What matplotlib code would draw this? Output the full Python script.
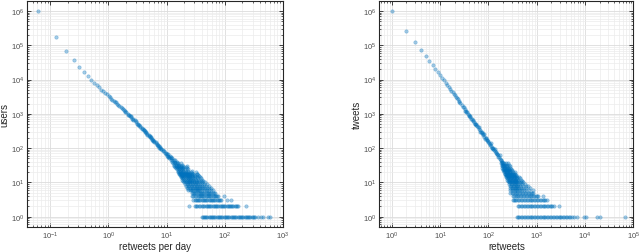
import matplotlib
matplotlib.use("Agg")
import matplotlib.pyplot as plt
from matplotlib.ticker import LogLocator, NullFormatter, FixedLocator, LogFormatterSciNotation

plt.rcParams['font.family'] = ['Liberation Sans', 'DejaVu Sans']

# ---------------- left panel: users vs retweets per day ----------------
left_line_x = [0.063, 0.127, 0.19, 0.253, 0.317, 0.38, 0.443, 0.506, 0.57, 0.633,
               0.696, 0.76, 0.823, 0.886, 0.95, 1.013, 1.07, 1.12, 1.175, 1.23,
               1.29, 1.35, 1.41, 1.48, 1.55, 1.62, 1.70, 1.78, 1.86, 1.95,
               2.04, 2.14, 2.24, 2.34, 2.45, 2.57, 2.69, 2.82, 2.95, 3.09,
               3.24, 3.39, 3.55, 3.72, 3.89, 4.07, 4.27, 4.47, 4.68, 4.90,
               5.13, 5.37, 5.62, 5.89, 6.17, 6.46, 6.76, 7.08, 7.41, 7.76,
               8.13, 8.51, 8.91,
               1.95, 2.45, 2.95, 3.55, 4.07, 4.47, 4.90, 5.37, 5.89, 6.46, 7.08, 7.76, 8.51,
               2.14, 2.69, 3.24, 3.72, 4.27, 4.68, 5.13, 5.62, 6.17, 6.76, 7.41, 8.13]
left_line_y = [1000000, 180000, 68000, 36000, 22500, 16500, 12400, 9500, 7900, 6900,
               5900, 5100, 4600, 4100, 3700, 3300, 3000, 2780, 2594, 2380,
               2259, 2150, 1963, 1800, 1710, 1620, 1486, 1370, 1291, 1210,
               1097, 990, 933, 875, 792, 715, 673, 640, 573, 515,
               486, 460, 414, 372, 352, 335, 299, 268, 254, 240,
               216, 194, 184, 174, 156, 140, 133, 125, 113, 101,
               96, 88, 81,
               1120, 840, 610, 450, 345, 290, 220, 205, 160, 150, 115, 110, 82,
               940, 720, 505, 390, 320, 245, 225, 172, 148, 124, 104, 92]

left_levels = {
    1: [39.8, 41.5, 43.7, 45.0, 47.9, 49.5, 52.5, 55.0, 57.5, 60.3, 63.1, 66.1, 69.2,
        72.4, 75.9, 79.4, 83.2, 87.1, 91.2, 95.5, 100, 105, 110, 115, 120, 126, 132,
        138, 145, 151, 158, 166, 174, 182, 191, 200, 209, 219, 229, 240, 251, 263,
        275, 288, 302, 316, 324, 372, 417, 447, 550, 603],
    2: [24.3, 30.2, 31.6, 33.9, 35.5, 37.2, 39.8, 41.7, 43.7, 46.8, 49.0, 51.3, 53.7,
        56.2, 58.9, 61.7, 64.6, 67.6, 70.8, 74.1, 77.6, 81.3, 85.1, 89.1, 93.3, 97.7,
        102, 107, 112, 117, 123, 129, 135, 141, 148, 155, 162, 170, 234],
    3: [28.7, 30.2, 31.6, 33.1, 34.7, 36.3, 38.0, 39.8, 41.7, 43.7, 45.7, 47.9, 50.1,
        52.5, 55.0, 57.5, 60.3, 63.1, 66.1, 69.2, 72.4, 75.9, 79.4, 83.2, 87.1, 107, 129],
    4: [27.5, 28.8, 30.9, 32.4, 34.0, 35.6, 37.2, 39.0, 40.7, 42.7, 44.7, 46.8, 49.0,
        51.3, 53.7, 56.2, 58.9, 61.7, 64.6, 67.6, 70.8, 74.1, 77.6, 95.5],
    5: [26.9, 28.2, 29.5, 30.9, 32.4, 34.0, 35.5, 37.2, 38.9, 40.7, 42.7, 44.7, 46.8,
        49.0, 51.3, 53.7, 56.2, 58.9, 61.7, 64.6, 67.6],
    6: [23.4, 25.1, 26.3, 27.5, 28.8, 30.2, 31.6, 33.1, 34.7, 36.3, 38.0, 40.7, 43.7,
        46.8, 50.1, 53.7, 57.5, 63.1],
    7: [22.4, 23.4, 25.7, 27.5, 28.8, 30.2, 31.6, 33.9, 35.5, 37.2, 39.8, 42.7, 45.7,
        49.0, 52.5, 57.5],
    8: [21.4, 23.4, 24.5, 26.3, 27.5, 29.5, 31.6, 33.1, 35.5, 38.0, 40.7, 43.7, 47.9, 52.5],
    9: [20.4, 22.4, 23.4, 25.1, 26.9, 28.2, 30.2, 32.4, 34.7, 37.2, 40.7, 44.7, 49.0],
    10: [20.0, 21.4, 22.9, 24.5, 25.7, 27.5, 29.5, 31.6, 33.9, 36.3, 39.8, 45.7],
    11: [19.1, 20.9, 22.4, 24.0, 25.7, 27.5, 29.5, 32.4, 35.5, 38.9, 42.7],
    12: [18.6, 20.0, 21.9, 23.4, 25.1, 26.9, 28.8, 31.6, 34.7, 40.7],
    13: [18.2, 19.5, 21.4, 22.9, 24.5, 26.3, 28.2, 30.9, 34.0, 38.9],
    14: [17.8, 19.1, 20.4, 22.4, 24.0, 25.7, 27.5, 30.2, 33.1, 38.0],
    15: [17.4, 18.6, 20.0, 21.4, 23.4, 25.1, 27.5, 30.2, 36.3],
    16: [17.0, 18.2, 19.5, 21.4, 22.9, 24.5, 26.9, 29.5, 34.7],
    17: [17.0, 18.6, 20.0, 21.9, 23.4, 25.7, 28.2, 33.1],
    18: [16.2, 17.8, 19.1, 20.9, 22.4, 24.5, 26.9, 33.1],
    19: [16.2, 17.4, 18.6, 20.4, 21.9, 24.0, 27.5],
    20: [15.8, 17.0, 18.2, 19.5, 21.4, 23.4, 26.3, 31.6],
    22: [15.5, 16.6, 17.8, 19.1, 20.9, 23.4, 27.5],
    24: [14.8, 16.2, 17.4, 18.6, 20.4, 22.9],
    26: [14.5, 15.8, 17.0, 18.2, 19.5, 22.4],
    28: [14.1, 15.1, 16.2, 17.4, 19.1, 21.4],
    30: [13.2, 14.5, 15.5, 16.6, 17.8, 19.5, 22.4],
    33: [13.5, 14.5, 15.5, 16.6, 18.2],
    36: [12.9, 13.8, 14.8, 15.8, 17.4],
    40: [12.3, 13.2, 14.1, 15.1],
    45: [11.7, 12.3, 13.2, 14.1],
    50: [11.2, 11.7, 12.6],
    55: [10.7, 11.2, 12.0],
    60: [10.2, 10.7, 11.5],
    67: [9.8, 10.2, 10.7],
    74: [9.3, 9.8],
}

# ---------------- right panel: tweets vs retweets ----------------
right_line_x = [1, 2, 3, 4, 5, 6, 7, 8, 9, 10, 11, 12, 13, 14, 15, 16, 17, 18, 19, 20,
                21, 22, 23, 24, 25, 26, 28, 30, 32, 34, 36, 38, 40, 42, 45, 48, 50, 53,
                56, 60, 63, 66, 70, 74, 78, 82, 87, 92, 97, 102, 108, 114, 120, 127,
                134, 141, 149, 157, 166, 175, 185, 195,
                31, 35, 41, 47, 55, 64, 72, 80, 90, 100, 111, 124, 138, 153, 170, 190,
                33, 39, 44, 52, 58, 68, 76, 85, 95, 105, 118, 131, 145, 161, 180]
right_line_y = [1000000, 257000, 124500, 74600, 50000, 35900, 26900, 20900, 17000, 13500,
                11200, 9440, 8070, 6980, 6100, 5370, 4770, 4260, 3830, 3470,
                3155, 2877, 2636, 2427, 2239, 2075, 1791, 1566, 1380, 1225, 1096, 986,
                891, 811, 708, 624, 576, 514, 461, 403, 366, 334, 298, 267, 241, 218,
                194, 174, 157, 142, 127, 114, 103, 92, 83, 75, 68, 61, 55, 49, 44, 40,
                1560, 1150, 890, 650, 500, 420, 305, 260, 200, 150, 140, 100, 95, 66, 62, 40,
                1230, 920, 690, 490, 430, 290, 250, 188, 172, 128, 102, 86, 72, 55, 46]

right_levels = {
    1: [389, 407, 437, 468, 501, 537, 575, 617, 661, 708, 759, 813, 871, 933, 1000,
        1072, 1148, 1230, 1318, 1413, 1514, 1622, 1738, 1862, 1995, 2138, 2291, 2455,
        2630, 2818, 3020, 3236, 3467, 3715, 3981, 4266, 4571, 4898, 5248, 5754, 6761,
        9333, 10470, 17380, 19950, 66070],
    2: [417, 437, 468, 501, 537, 575, 617, 661, 708, 759, 813, 871, 933, 1000, 1072,
        1148, 1230, 1318, 1413, 1514, 1622, 1738, 1862, 1995, 2089, 2239, 2818],
    3: [316, 331, 355, 380, 407, 437, 468, 501, 537, 575, 617, 661, 708, 759, 813, 871,
        933, 1000, 1072, 1148, 1230, 1318, 1413, 1514, 1622],
    4: [316, 339, 363, 389, 417, 447, 479, 513, 550, 589, 631, 676, 724, 776, 832, 891,
        955, 1023, 1072, 1318],
    5: [282, 302, 324, 347, 372, 398, 427, 457, 490, 525, 562, 603, 646, 692, 741, 794, 851],
    6: [282, 302, 324, 347, 372, 398, 427, 457, 490, 537, 603, 692, 832],
    7: [282, 302, 324, 347, 372, 398, 427, 468, 525, 603, 724],
    8: [275, 295, 316, 339, 363, 389, 417, 457, 513, 589, 661],
    9: [269, 288, 309, 331, 355, 380, 407, 447, 501, 575],
    10: [263, 282, 302, 324, 347, 372, 398, 437, 479, 525],
    11: [251, 269, 288, 309, 331, 355, 380, 417, 490],
    12: [245, 263, 282, 302, 324, 347, 372, 407, 468],
    13: [240, 257, 275, 295, 316, 339, 363, 398, 447],
    14: [234, 251, 269, 288, 309, 331, 355, 389, 437],
    15: [234, 251, 269, 288, 309, 339, 380],
    16: [229, 245, 263, 282, 302, 331, 363],
    17: [224, 240, 257, 275, 295, 324, 355],
    18: [219, 234, 251, 269, 288, 309, 339],
    20: [214, 229, 245, 263, 282, 316, 347],
    21: [209, 224, 240, 257, 275, 309],
    23: [204, 219, 234, 251, 269, 302],
    25: [200, 214, 229, 245, 263, 295],
    27: [195, 209, 224, 240, 257, 282],
    30: [191, 204, 214, 229, 245, 275],
    33: [186, 200, 209, 224, 240, 263],
    36: [178, 191, 200, 214, 229, 251],
}

left_xticks = [0.1, 1, 10, 100, 1000]
right_xticks = [1, 10, 100, 1000, 10000, 100000]
yticks = [1, 10, 100, 1000, 10000, 100000, 1000000]

left_xlabel = "retweets per day"
left_ylabel = "users"
right_xlabel = "retweets"
right_ylabel = "tweets"

blue = "#0072BD"


def flatten(levels):
    xs, ys = [], []
    for yv, xl in levels.items():
        for xv in xl:
            xs.append(xv)
            ys.append(yv)
    return xs, ys


def style(ax, xlim, ylim, xticks):
    ax.set_xscale("log")
    ax.set_yscale("log")
    ax.xaxis.set_major_locator(FixedLocator(xticks))
    ax.yaxis.set_major_locator(FixedLocator(yticks))
    ax.xaxis.set_major_formatter(LogFormatterSciNotation())
    ax.yaxis.set_major_formatter(LogFormatterSciNotation())
    ax.xaxis.set_minor_locator(LogLocator(base=10, subs=range(2, 10), numticks=20))
    ax.yaxis.set_minor_locator(LogLocator(base=10, subs=range(2, 10), numticks=20))
    ax.xaxis.set_minor_formatter(NullFormatter())
    ax.yaxis.set_minor_formatter(NullFormatter())
    ax.set_xlim(*xlim)
    ax.set_ylim(*ylim)
    ax.grid(True, which="major", color="#dcdcdc", linewidth=0.6)
    ax.grid(True, which="minor", color="#ececec", linewidth=0.5)
    ax.set_axisbelow(True)
    ax.tick_params(which="both", direction="in", top=True, right=True,
                   colors="#262626", labelcolor="#4d4d4d", labelsize=5.5, pad=2)
    ax.tick_params(which="major", length=3, width=0.6)
    ax.tick_params(which="minor", length=1.6, width=0.5)
    for sp in ax.spines.values():
        sp.set_color("#262626")
        sp.set_linewidth(0.8)


fig = plt.figure(figsize=(6.4, 2.53), dpi=100)
ax1 = fig.add_axes([0.0422, 0.1, 0.4, 0.892])
ax2 = fig.add_axes([0.5927, 0.1, 0.397, 0.892])

lx, ly = flatten(left_levels)
rx, ry = flatten(right_levels)

kw = dict(s=6, c=blue, alpha=0.35, linewidths=0.5, edgecolors=blue, marker="o")
ax1.scatter(left_line_x, left_line_y, **kw)
ax1.scatter(lx, ly, **kw)
ax2.scatter(right_line_x, right_line_y, **kw)
ax2.scatter(rx, ry, **kw)

style(ax1, (0.04, 1000), (0.51, 1.95e6), left_xticks)
style(ax2, (0.55, 1e5), (0.51, 1.95e6), right_xticks)

ax1.set_xlabel(left_xlabel, fontsize=7, color="#262626", labelpad=0)
ax1.set_ylabel(left_ylabel, fontsize=7, color="#262626", labelpad=1)
ax2.set_xlabel(right_xlabel, fontsize=7, color="#262626", labelpad=0)
ax2.set_ylabel(right_ylabel, fontsize=7, color="#262626", labelpad=1)

fig.savefig("out.png", dpi=100)
